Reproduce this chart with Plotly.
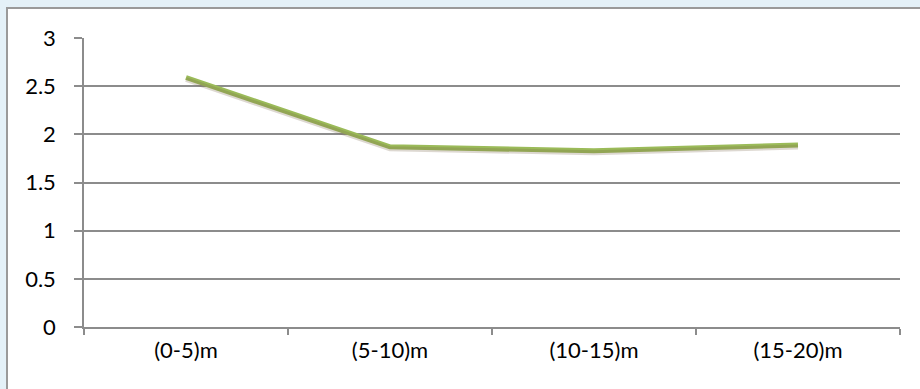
import plotly.graph_objects as go

categories = ["(0-5)m", "(5-10)m", "(10-15)m", "(15-20)m"]
values = [2.59, 1.87, 1.83, 1.89]
y_ticks = [0, 0.5, 1, 1.5, 2, 2.5, 3]
y_tick_labels = ["0", "0.5", "1", "1.5", "2", "2.5", "3"]

W, H = 920, 389
ml, mr, mt, mb = 84, 20, 38, 62
pw, ph = W - ml - mr, H - mt - mb
px_y = 3.0 / ph  # data units per pixel on y

fig = go.Figure()

# subtle shadow under the line (same data, axis shifted a couple of pixels)
fig.add_trace(go.Scatter(
    x=categories, y=values, mode="lines",
    line=dict(color="rgba(120,100,70,0.25)", width=5),
    xaxis="x", yaxis="y2", hoverinfo="skip", showlegend=False,
))
fig.add_trace(go.Scatter(
    x=categories, y=values, mode="lines",
    line=dict(color="#9BBB59", width=5),
    showlegend=False,
))

font = dict(family="Lato, sans-serif", size=22, color="#000000")

fig.update_layout(
    width=W, height=H,
    margin=dict(l=ml, r=mr, t=mt, b=mb),
    paper_bgcolor="#e4f1f8",
    plot_bgcolor="white",
    font=font,
    xaxis=dict(
        type="category", range=[-0.5, 3.5],
        showgrid=False, zeroline=False,
        showline=True, linecolor="#8c8c8c", linewidth=1.5,
        ticks="outside", tickson="boundaries", ticklen=6,
        tickcolor="#8c8c8c", tickwidth=1.5,
        ticklabelstandoff=3,
    ),
    yaxis=dict(
        range=[0, 3], tickvals=y_ticks, ticktext=y_tick_labels,
        showgrid=True, gridcolor="#8c8c8c", gridwidth=1.5,
        zeroline=False,
        showline=True, linecolor="#8c8c8c", linewidth=1.5,
        ticks="outside", ticklen=8, tickcolor="#8c8c8c", tickwidth=1.5,
        ticklabelstandoff=14,
    ),
    yaxis2=dict(
        range=[2 * px_y, 3 + 2 * px_y], overlaying="y", visible=False,
    ),
    shapes=[
        dict(
            type="rect", xref="paper", yref="paper", layer="below",
            x0=(7 - ml) / pw, x1=1.3,
            y0=-0.5, y1=(H - mb - 8) / ph,
            fillcolor="white", line=dict(color="#9a9a9a", width=2),
        )
    ],
)

fig.write_html(
    "out.html",
    config={"displayModeBar": False},
    post_script="document.body.style.margin='0';document.body.style.background='#e4f1f8';",
)
